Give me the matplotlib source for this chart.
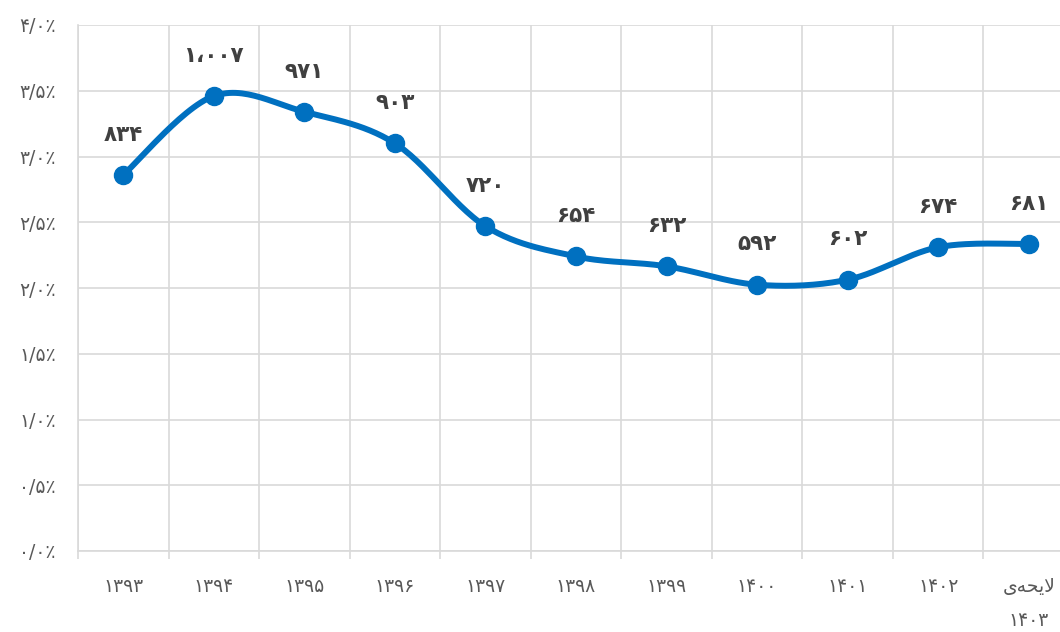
import numpy as np
import matplotlib
matplotlib.use("Agg")
import matplotlib.pyplot as plt
from matplotlib.ticker import FixedLocator

plt.rcParams['font.family'] = ['DejaVu Sans']

# Category labels (Persian). Last one shaped manually in visual order (presentation forms)
categories = ["۱۳۹۳", "۱۳۹۴", "۱۳۹۵", "۱۳۹۶", "۱۳۹۷", "۱۳۹۸", "۱۳۹۹",
              "۱۴۰۰", "۱۴۰۱", "۱۴۰۲", "\uFBFC\uFEEA\uFEA4\uFBFE\uFEFB\n۱۴۰۳"]
share_pct = [2.86, 3.46, 3.34, 3.10, 2.47, 2.24, 2.165, 2.025, 2.063, 2.31, 2.335]
value_labels = ["۸۳۴", "۱،۰۰۷", "۹۷۱", "۹۰۳", "۷۲۰", "۶۵۴", "۶۳۲", "۵۹۲", "۶۰۲", "۶۷۴", "۶۸۱"]
y_ticks = [0.0, 0.5, 1.0, 1.5, 2.0, 2.5, 3.0, 3.5, 4.0]
y_tick_labels = ["۰/۰٪", "۰/۵٪", "۱/۰٪", "۱/۵٪", "۲/۰٪", "۲/۵٪", "۳/۰٪", "۳/۵٪", "۴/۰٪"]

BLUE = "#0070C0"
GRID = "#D9D9D9"

fig = plt.figure(figsize=(10.6, 6.32), dpi=100)
# axes spans slightly beyond the right edge like the reference
ax = fig.add_axes([78 / 1060, 81 / 632, 996 / 1060, 526 / 632])

x = np.arange(len(categories))
y = np.array(share_pct)

# smoothed line (uniform Catmull-Rom, like Excel's smoothed line)
P = np.column_stack([x, y]).astype(float)
Pext = np.vstack([P[0], P, P[-1]])
curve = []
t = np.linspace(0, 1, 30)
for i in range(1, len(Pext) - 2):
    p0, p1, p2, p3 = Pext[i - 1], Pext[i], Pext[i + 1], Pext[i + 2]
    c1 = p1 + (p2 - p0) / 6
    c2 = p2 - (p3 - p1) / 6
    seg = ((1 - t) ** 3)[:, None] * p1 + (3 * (1 - t) ** 2 * t)[:, None] * c1 \
        + (3 * (1 - t) * t ** 2)[:, None] * c2 + (t ** 3)[:, None] * p2
    curve.append(seg)
curve = np.vstack(curve)
ax.plot(curve[:, 0], curve[:, 1], color=BLUE, lw=4.3, solid_capstyle='round', zorder=3)
ax.plot(x, y, 'o', color=BLUE, ms=13, zorder=4)

for xi, yi, lab in zip(x, y, value_labels):
    ax.annotate(lab, (xi, yi), xytext=(0, 29), textcoords='offset points',
                ha='center', va='center', fontsize=15.5, fontweight='bold', color='#404040')

ax.set_xlim(-0.5, len(categories) - 0.5)
ax.set_ylim(0, 4.0)

ax.set_yticks(y_ticks)
ax.set_yticklabels(y_tick_labels)
ax.set_xticks(x)
ax.set_xticklabels(categories, linespacing=2.0)
ax.xaxis.set_minor_locator(FixedLocator(np.arange(-0.5, len(categories), 1.0)))

ax.tick_params(axis='y', length=0, pad=16, labelsize=13.5, labelcolor='#595959')
ax.tick_params(axis='x', which='major', length=0, pad=19, labelsize=13.5, labelcolor='#595959')
ax.tick_params(axis='x', which='minor', length=6, width=1.2, color=GRID)

ax.grid(axis='y', color=GRID, lw=1.2)
ax.grid(axis='x', which='minor', color=GRID, lw=1.2)
ax.set_axisbelow(True)
for s in ['top', 'right']:
    ax.spines[s].set_visible(False)
for s in ['left', 'bottom']:
    ax.spines[s].set_color(GRID)
    ax.spines[s].set_linewidth(1.2)

fig.savefig("out.png", dpi=100)
